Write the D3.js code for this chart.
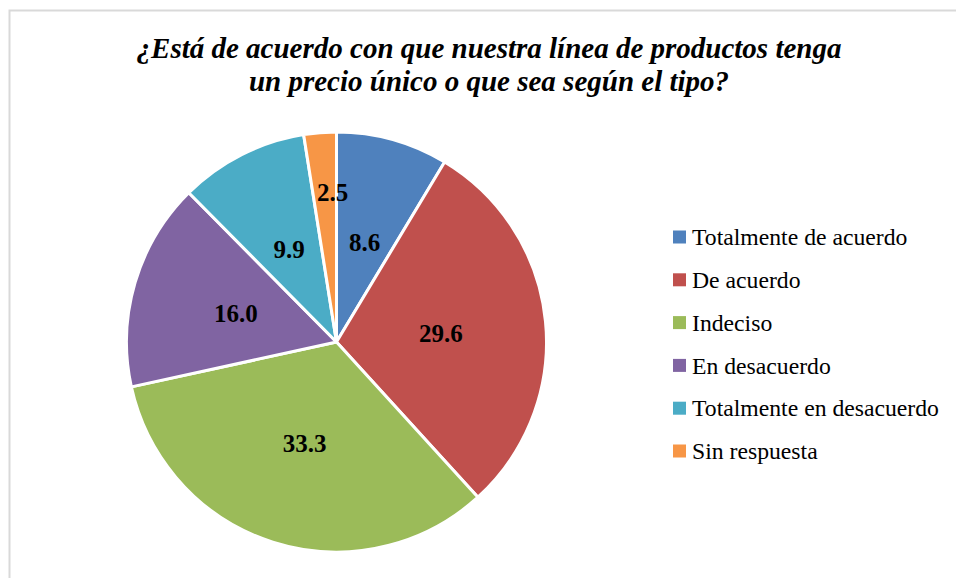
<!DOCTYPE html>
<html>
<head>
<meta charset="utf-8">
<script src="https://cdn.jsdelivr.net/npm/d3@7"></script>
<style>
  body { margin: 0; background: #fff; }
  svg { display: block; }
  svg text { font-family: "Liberation Serif", "Times New Roman", Times, "DejaVu Serif", serif; }
</style>
</head>
<body>
<svg id="chart"></svg>
<script>
const width = 956;
const height = 578;

// data
const categories = ["Totalmente de acuerdo", "De acuerdo", "Indeciso", "En desacuerdo", "Totalmente en desacuerdo", "Sin respuesta"];
const values = [8.6, 29.6, 33.3, 16.0, 9.9, 2.5];
const colors = ["#4f81bd", "#c0504d", "#9bbb59", "#8064a2", "#4bacc6", "#f79646"];
const titleLines = ["¿Está de acuerdo con que nuestra línea de productos tenga", "un precio único o que sea según el tipo?"];

const data = categories.map((c, i) => ({ name: c, value: values[i], color: colors[i] }));

const svg = d3.select("#chart")
  .attr("width", width)
  .attr("height", height);

// chart frame (only left/top visible in the crop)
svg.append("rect")
  .attr("x", 9.5)
  .attr("y", 10.5)
  .attr("width", width + 20)
  .attr("height", height + 20)
  .attr("fill", "#fff")
  .attr("stroke", "#d9d9d9")
  .attr("stroke-width", 2);

// title
svg.append("text")
  .attr("x", 489)
  .attr("y", 58)
  .attr("text-anchor", "middle")
  .attr("font-size", 29)
  .attr("font-weight", "bold")
  .attr("font-style", "italic")
  .selectAll("tspan")
  .data(titleLines)
  .enter()
  .append("tspan")
  .attr("x", 489)
  .attr("dy", (d, i) => i === 0 ? 0 : 33)
  .text(d => d);

// pie
const cx = 336.5, cy = 342, radius = 210;

const pie = d3.pie().sort(null).value(d => d.value);
const arc = d3.arc().innerRadius(0).outerRadius(radius);
const labelArc = d3.arc().innerRadius(radius * 0.5).outerRadius(radius * 0.5);
const outerLabelArc = d3.arc().innerRadius(radius * 0.72).outerRadius(radius * 0.72);

const g = svg.append("g")
  .attr("transform", `translate(${cx},${cy})`);

const arcs = pie(data);

g.selectAll("path.slice")
  .data(arcs)
  .enter()
  .append("path")
  .attr("class", "slice")
  .attr("d", arc)
  .attr("fill", d => d.data.color)
  .attr("stroke", "#fff")
  .attr("stroke-width", 3)
  .attr("stroke-linejoin", "round");

g.selectAll("text.value")
  .data(arcs)
  .enter()
  .append("text")
  .attr("class", "value")
  .attr("transform", d => {
    // small slices get pushed out like Excel's best fit (and nudged toward the seam)
    const small = (d.endAngle - d.startAngle) < 0.2;
    const p = small ? outerLabelArc.centroid(d) : labelArc.centroid(d);
    return `translate(${p[0] + (small ? 8 : 0)},${p[1]})`;
  })
  .attr("text-anchor", "middle")
  .attr("dy", "0.4em")
  .attr("font-size", 25)
  .attr("font-weight", "bold")
  .attr("fill", "#000")
  .text(d => d.data.value.toFixed(1));

// legend
const legendX = 673, legendY = 237, legendStep = 42.8;

const legend = svg.append("g")
  .selectAll("g.legend-item")
  .data(data)
  .enter()
  .append("g")
  .attr("class", "legend-item")
  .attr("transform", (d, i) => `translate(${legendX},${legendY + i * legendStep})`);

legend.append("rect")
  .attr("x", 0)
  .attr("y", -6.5)
  .attr("width", 13)
  .attr("height", 13)
  .attr("fill", d => d.color);

legend.append("text")
  .attr("x", 19)
  .attr("y", 0)
  .attr("dy", "0.35em")
  .attr("font-size", 23.7)
  .attr("fill", "#000")
  .text(d => d.name);
</script>
</body>
</html>
